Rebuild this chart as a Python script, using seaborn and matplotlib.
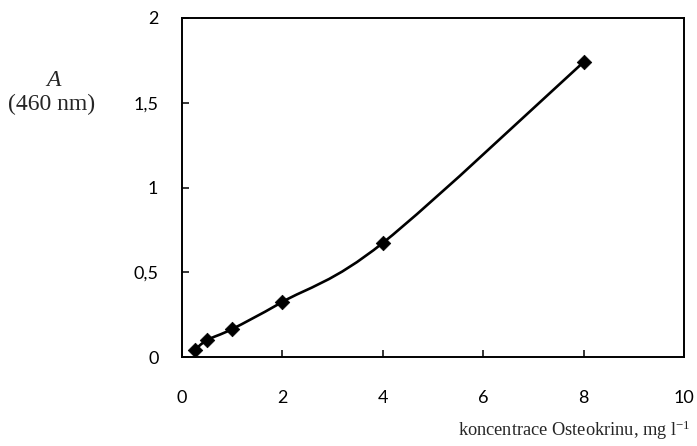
import numpy as np
import matplotlib
matplotlib.use("Agg")
import matplotlib.pyplot as plt
from matplotlib.path import Path
from matplotlib.patches import PathPatch
import seaborn as sns
import pandas as pd

# Calibration data: Osteokrin concentration vs absorbance at 460 nm
concentration = [0.25, 0.5, 1, 2, 4, 8]
absorbance = [0.04, 0.10, 0.165, 0.325, 0.673, 1.74]

x_ticks = [0, 2, 4, 6, 8, 10]
y_ticks = [0, 0.5, 1, 1.5, 2]
y_tick_labels = ["0", "0,5", "1", "1,5", "2"]

sns.set_theme(style="white")
plt.rcParams["font.family"] = ["Lato", "DejaVu Sans"]
plt.rcParams["mathtext.fontset"] = "custom"
plt.rcParams["mathtext.rm"] = "Liberation Serif"
plt.rcParams["mathtext.it"] = "Liberation Serif:italic"

df = pd.DataFrame({"c": concentration, "A": absorbance})

fig = plt.figure(figsize=(6.97, 4.46), dpi=100)
ax = fig.add_axes([182 / 697, 1 - 357 / 446, (684 - 182) / 697, (357 - 18) / 446])

# Smoothed connecting line (Catmull-Rom style Bezier, as in spreadsheet charts)
pts = np.column_stack([concentration, absorbance]).astype(float)
verts = [tuple(pts[0])]
codes = [Path.MOVETO]
n = len(pts)
for i in range(n - 1):
    p0 = pts[i - 1] if i > 0 else pts[i]
    p1 = pts[i]
    p2 = pts[i + 1]
    p3 = pts[i + 2] if i + 2 < n else pts[i + 1]
    c1 = p1 + (p2 - p0) / 6.0
    c2 = p2 - (p3 - p1) / 6.0
    verts += [tuple(c1), tuple(c2), tuple(p2)]
    codes += [Path.CURVE4] * 3
ax.add_patch(PathPatch(Path(verts, codes), facecolor="none", edgecolor="black",
                       linewidth=1.9, zorder=2, capstyle="round"))

sns.scatterplot(data=df, x="c", y="A", marker="D", s=55, color="black",
                edgecolor="black", linewidth=0.5, ax=ax, zorder=3)

ax.set_xlim(0, 10)
ax.set_ylim(0, 2)
ax.set_xticks(x_ticks)
ax.set_xticklabels([str(t) for t in x_ticks])
ax.set_yticks(y_ticks)
ax.set_yticklabels(y_tick_labels)
ax.tick_params(axis="both", direction="in", length=5, width=1.1, colors="black",
               labelsize=13)
ax.tick_params(axis="x", pad=24)
ax.tick_params(axis="y", pad=17)
ax.tick_params(top=False, right=False, bottom=True, left=True)
for sp in ax.spines.values():
    sp.set_visible(True)
    sp.set_color("black")
    sp.set_linewidth(1.4)
ax.set_xlabel("")
ax.set_ylabel("")

serif = ["Liberation Serif", "DejaVu Serif"]
fig.text(53 / 697, 1 - 80 / 446, "A", family=serif, style="italic", fontsize=17,
         ha="center", va="center")
fig.text(52 / 697, 1 - 104 / 446, "(460 nm)", family=serif, fontsize=17,
         ha="center", va="center")
fig.text(691 / 697, 1 - 430 / 446, r"koncentrace Osteokrinu, mg l$^{-1}$", family=serif,
         fontsize=13.2, ha="right", va="center")

fig.savefig("out.png", dpi=100)
